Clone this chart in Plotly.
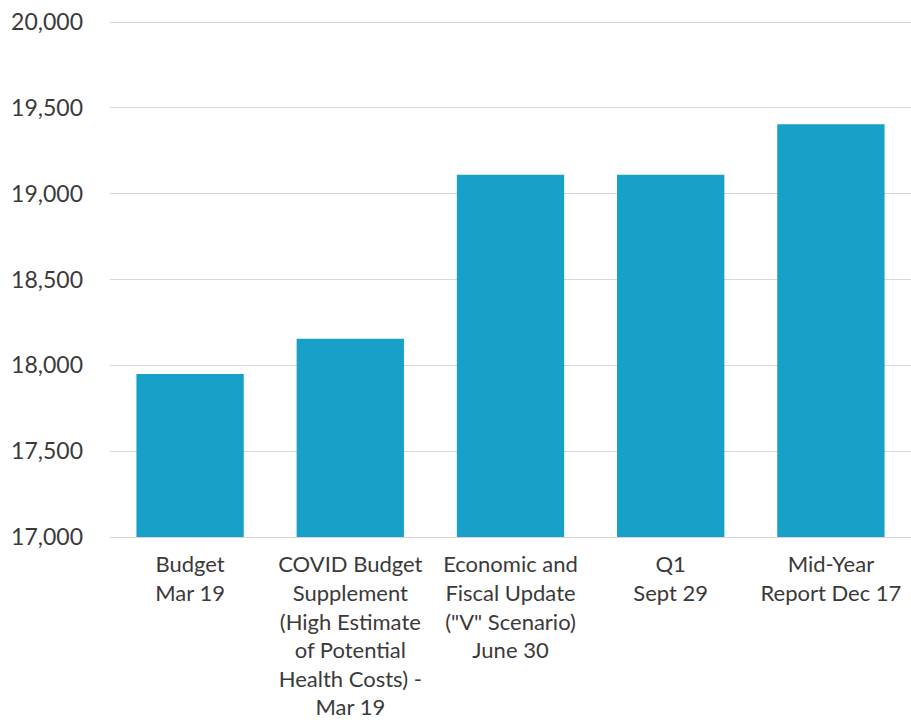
import plotly.graph_objects as go

# Forecast snapshots (in $ millions)
categories = [
    "Budget<br>Mar 19",
    "COVID Budget<br>Supplement<br>(High Estimate<br>of Potential<br>Health Costs) -<br>Mar 19",
    "Economic and<br>Fiscal Update<br>(\"V\" Scenario)<br>June 30",
    "Q1<br>Sept 29",
    "Mid-Year<br>Report Dec 17",
]
values = [17950, 18155, 19110, 19110, 19405]
y_ticks = [17000, 17500, 18000, 18500, 19000, 19500, 20000]

BAR = "#17A1C9"
GRID = "#D6D6D6"
TEXT = "#3A3A3A"
FONT = "Lato"

fig = go.Figure(
    go.Bar(x=categories, y=values, marker=dict(color=BAR, line=dict(width=0)))
)

fig.update_layout(
    width=911,
    height=725,
    margin=dict(l=110, r=0, t=21, b=188),
    paper_bgcolor="white",
    plot_bgcolor="white",
    bargap=0.33,
    showlegend=False,
    font=dict(family=FONT, size=22, color=TEXT),
)

fig.update_yaxes(
    range=[17000, 20006],
    tickvals=y_ticks,
    tickformat=",d",
    showgrid=True,
    gridcolor=GRID,
    gridwidth=1,
    zeroline=False,
    ticks="",
    ticklabelstandoff=26,
    tickfont=dict(family=FONT, size=23, color=TEXT),
)

fig.update_xaxes(
    showline=True,
    linecolor=GRID,
    linewidth=1,
    ticks="",
    tickangle=0,
    ticklabelstandoff=8,
    tickfont=dict(family=FONT, size=22, color=TEXT),
)

fig.write_html("out.html")
